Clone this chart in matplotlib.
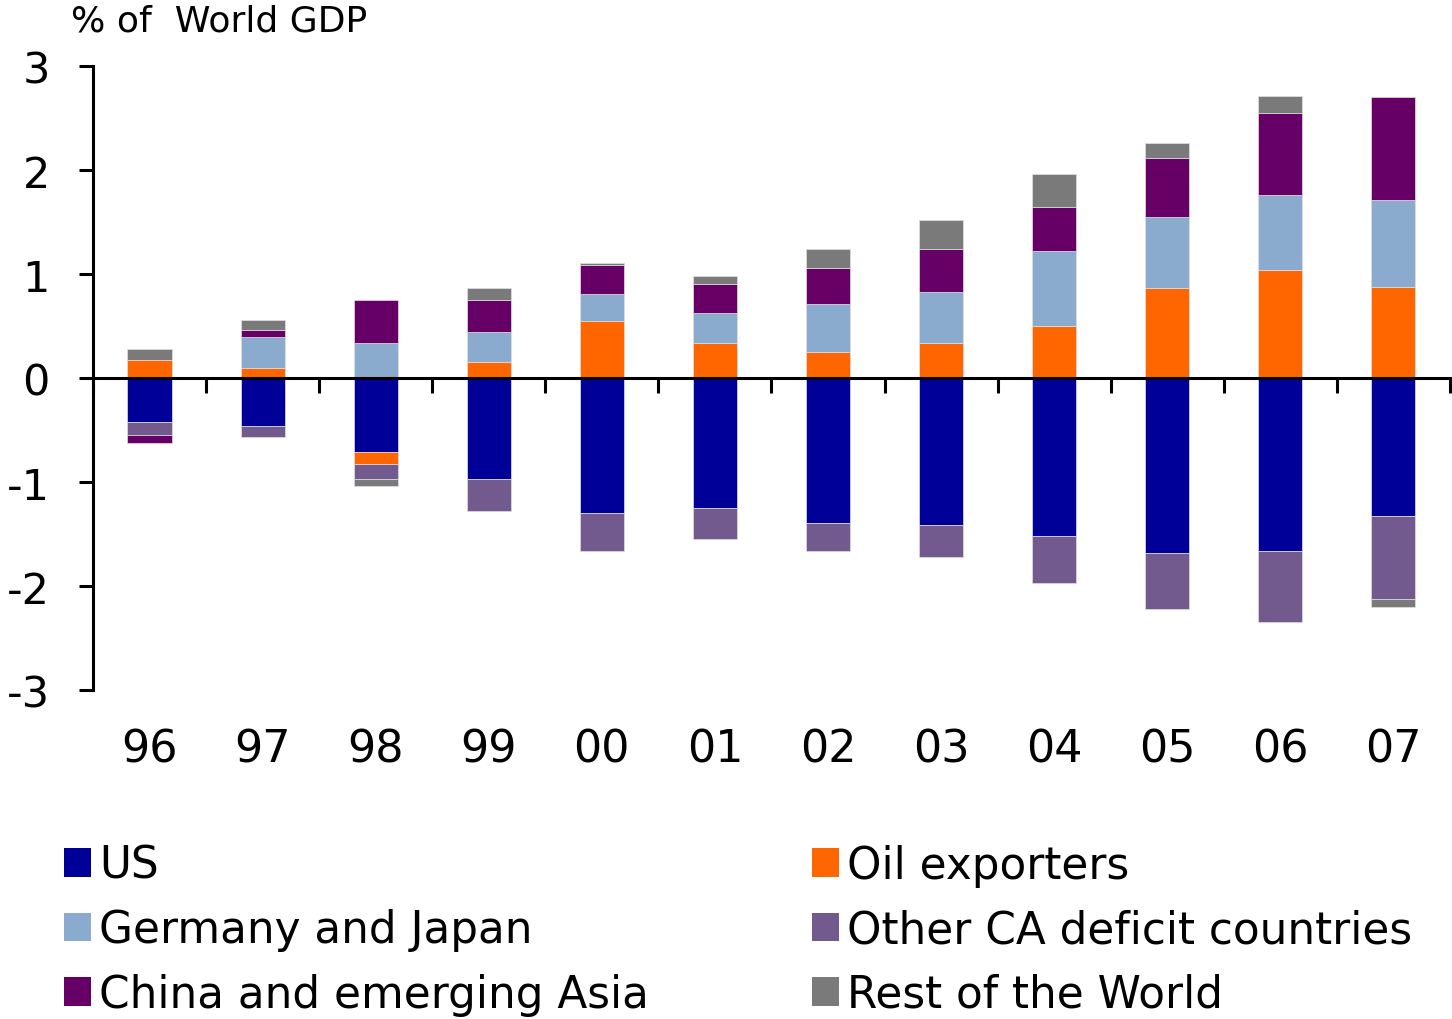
import numpy as np
import matplotlib
matplotlib.use("Agg")
import matplotlib.pyplot as plt
from matplotlib.patches import Patch

plt.rcParams['font.family'] = ['DejaVu Sans']
plt.rcParams['axes.unicode_minus'] = False

years = ['96', '97', '98', '99', '00', '01', '02', '03', '04', '05', '06', '07']

# % of world GDP
us = [-0.42, -0.46, -0.71, -0.97, -1.30, -1.25, -1.39, -1.41, -1.52, -1.68, -1.66, -1.33]
oil = [0.17, 0.10, -0.12, 0.15, 0.55, 0.34, 0.25, 0.34, 0.50, 0.87, 1.04, 0.88]
ger_jpn = [0.0, 0.29, 0.34, 0.29, 0.26, 0.29, 0.46, 0.49, 0.72, 0.68, 0.72, 0.83]
other_ca = [-0.13, -0.11, -0.14, -0.31, -0.36, -0.30, -0.27, -0.31, -0.45, -0.54, -0.69, -0.79]
china = [-0.075, 0.075, 0.41, 0.31, 0.28, 0.27, 0.345, 0.41, 0.42, 0.57, 0.79, 0.99]
rest = [0.11, 0.095, -0.065, 0.115, 0.015, 0.08, 0.19, 0.28, 0.32, 0.14, 0.16, -0.08]

series = [
    ('US', us, '#000099'),
    ('Oil exporters', oil, '#ff6600'),
    ('Germany and Japan', ger_jpn, '#8aabcd'),
    ('Other CA deficit countries', other_ca, '#72598e'),
    ('China and emerging Asia', china, '#660066'),
    ('Rest of the World', rest, '#7a7a7a'),
]

fig = plt.figure(figsize=(14.52, 10.20), dpi=100)
ax = fig.add_axes([0.064, 0.3225, 0.9346, 0.6118])

x = np.arange(len(years))
pos = np.zeros(len(years))
neg = np.zeros(len(years))
for name, vals, col in series:
    v = np.array(vals)
    bottom = np.where(v >= 0, pos, neg)
    ax.bar(x, v, width=0.39, bottom=bottom, color=col,
           edgecolor='#e0e0e0', linewidth=0.5, zorder=2)
    pos += np.where(v >= 0, v, 0)
    neg += np.where(v < 0, v, 0)

ax.set_xlim(-0.5, len(years) - 0.5)
ax.set_ylim(-3, 3)

# spines
for s in ['top', 'right']:
    ax.spines[s].set_visible(False)
ax.spines['left'].set_linewidth(2.2)
ax.spines['bottom'].set_position(('data', 0))
ax.spines['bottom'].set_linewidth(2.2)
ax.spines['bottom'].set_zorder(5)

ax.set_yticks([-3, -2, -1, 0, 1, 2, 3])
ax.tick_params(axis='y', direction='out', length=10, width=2.2,
               labelsize=31, pad=21)

ax.set_xticks(np.arange(-0.5, len(years)), minor=False)
ax.set_xticklabels([])
ax.tick_params(axis='x', direction='out', length=11, width=2.2)

for i, yr in enumerate(years):
    ax.text(i, -0.0946, yr, transform=ax.get_xaxis_transform(),
            ha='center', va='center', fontsize=32)

fig.text(0.049, 0.979, '% of  World GDP', fontsize=26, va='center', ha='left')

# legend in two columns
lookup = {name: col for name, vals, col in series}
left_names = ['US', 'Germany and Japan', 'China and emerging Asia']
right_names = ['Oil exporters', 'Other CA deficit countries', 'Rest of the World']
for names, xa in [(left_names, 0.044), (right_names, 0.559)]:
    handles = [Patch(facecolor=lookup[n], edgecolor='none') for n in names]
    leg = fig.legend(handles, names, loc='upper left', bbox_to_anchor=(xa, 0.1716),
                     frameon=False, fontsize=31.5, handlelength=0.63,
                     handleheight=0.63, handletextpad=0.18, labelspacing=0.49,
                     borderaxespad=0, borderpad=0)

fig.savefig('out.png', dpi=100)
